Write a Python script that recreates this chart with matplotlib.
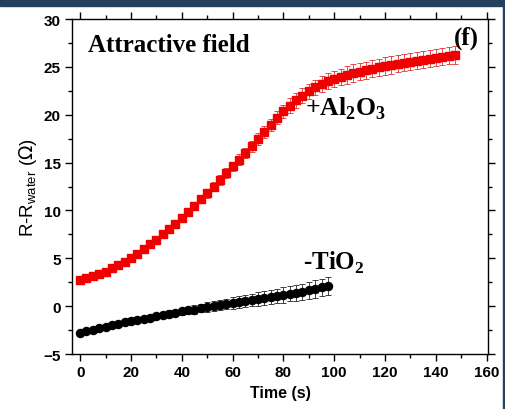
import numpy as np
import matplotlib.pyplot as plt
from matplotlib.patches import Rectangle
from matplotlib.ticker import MultipleLocator

# Al2O3 (red squares), sampled every 2.5 s
t_al = [i * 2.5 for i in range(60)]
r_al = [2.7, 2.9, 3.1, 3.35, 3.6, 3.95, 4.3, 4.65, 5.05, 5.5,
        5.95, 6.45, 6.95, 7.5, 8.05, 8.6, 9.2, 9.85, 10.5, 11.15,
        11.8, 12.5, 13.2, 13.9, 14.6, 15.3, 16.0, 16.7, 17.45, 18.2,
        18.95, 19.7, 20.35, 20.95, 21.5, 22.0, 22.45, 22.85, 23.2, 23.5,
        23.75, 23.95, 24.15, 24.35, 24.5, 24.65, 24.8, 24.95, 25.1, 25.2,
        25.35, 25.45, 25.55, 25.65, 25.75, 25.85, 25.95, 26.05, 26.15, 26.25]
e_al = [0.1, 0.1, 0.1, 0.1, 0.15, 0.15, 0.15, 0.2, 0.2, 0.2,
        0.25, 0.25, 0.3, 0.3, 0.3, 0.35, 0.35, 0.4, 0.4, 0.4,
        0.45, 0.45, 0.5, 0.5, 0.5, 0.55, 0.55, 0.6, 0.6, 0.65,
        0.65, 0.7, 0.7, 0.75, 0.75, 0.8, 0.8, 0.8, 0.85, 0.85,
        0.85, 0.85, 0.9, 0.9, 0.9, 0.9, 0.9, 0.9, 0.9, 0.9,
        0.9, 0.9, 0.9, 0.9, 0.9, 0.9, 0.9, 0.9, 0.9, 0.9]

# TiO2 (black circles)
t_ti = [i * 2.5 for i in range(40)]
r_ti = [-2.8, -2.6, -2.45, -2.3, -2.15, -2.0, -1.85, -1.7, -1.55, -1.45,
        -1.3, -1.2, -1.05, -0.95, -0.8, -0.7, -0.55, -0.45, -0.35, -0.2,
        -0.1, 0.0, 0.1, 0.25, 0.35, 0.45, 0.55, 0.65, 0.75, 0.85,
        0.95, 1.05, 1.15, 1.3, 1.4, 1.5, 1.65, 1.8, 1.95, 2.1]
e_ti = [0.1, 0.1, 0.1, 0.15, 0.15, 0.15, 0.2, 0.2, 0.2, 0.25,
        0.25, 0.3, 0.3, 0.3, 0.35, 0.35, 0.4, 0.4, 0.45, 0.45,
        0.5, 0.5, 0.55, 0.55, 0.6, 0.6, 0.65, 0.65, 0.7, 0.7,
        0.75, 0.75, 0.8, 0.8, 0.85, 0.85, 0.9, 0.9, 0.9, 0.9]

fig = plt.figure(figsize=(5.06, 4.10), dpi=100)
ax = fig.add_axes([0.1423, 0.1341, 0.8221, 0.8171])

ax.errorbar(t_al, r_al, yerr=e_al, fmt='s', color='#f00000', ms=5.8,
            ecolor='#e03030', elinewidth=0.6, capsize=2.2, capthick=0.6, zorder=3)
ax.errorbar(t_ti, r_ti, yerr=e_ti, fmt='o', color='black', ms=5.8,
            ecolor='#222222', elinewidth=0.6, capsize=2.2, capthick=0.6, zorder=3)

ax.set_xlim(-3.2, 160.5)
ax.set_ylim(-5, 30)
ax.xaxis.set_major_locator(MultipleLocator(20))
ax.xaxis.set_minor_locator(MultipleLocator(10))
ax.yaxis.set_major_locator(MultipleLocator(5))
ax.yaxis.set_minor_locator(MultipleLocator(2.5))
ax.tick_params(which='both', direction='out', top=True, right=True, width=1)
ax.tick_params(which='major', length=5, labelsize=11, pad=3)
ax.tick_params(which='minor', length=3)
for s in ax.spines.values():
    s.set_linewidth(1)
for lab in ax.get_xticklabels() + ax.get_yticklabels():
    lab.set_fontfamily('Liberation Sans')
    lab.set_fontweight('bold')

ax.set_xlabel('Time (s)', fontsize=11.5, fontweight='bold', family='Liberation Sans', labelpad=4)
ax.set_ylabel(r'R-R$_{\mathregular{water}}$ ($\Omega$)', fontsize=13.5,
              family='Liberation Sans', labelpad=3)

serif = dict(family='Liberation Serif', fontweight='bold', color='black')
ax.text(0.038, 0.925, 'Attractive field', transform=ax.transAxes, fontsize=18,
        va='center', ha='left', **serif)
ax.text(0.978, 0.945, '(f)', transform=ax.transAxes, fontsize=18,
        va='center', ha='right', **serif)
ax.text(0.56, 0.735, r'+Al$_{\mathregular{2}}$O$_{\mathregular{3}}$', transform=ax.transAxes,
        fontsize=18.5, va='center', ha='left', **serif)
ax.text(0.555, 0.275, r'-TiO$_{\mathregular{2}}$', transform=ax.transAxes,
        fontsize=18, va='center', ha='left', **serif)

# dark frame edges from the surrounding page
fig.patches.append(Rectangle((0, 1 - 7 / 410), 1, 7 / 410, transform=fig.transFigure,
                             color='#243f5e', zorder=10))
fig.patches.append(Rectangle((503 / 506, 0), 3 / 506, 1, transform=fig.transFigure,
                             color='#243f5e', zorder=10))

fig.savefig('out.png', dpi=100)
